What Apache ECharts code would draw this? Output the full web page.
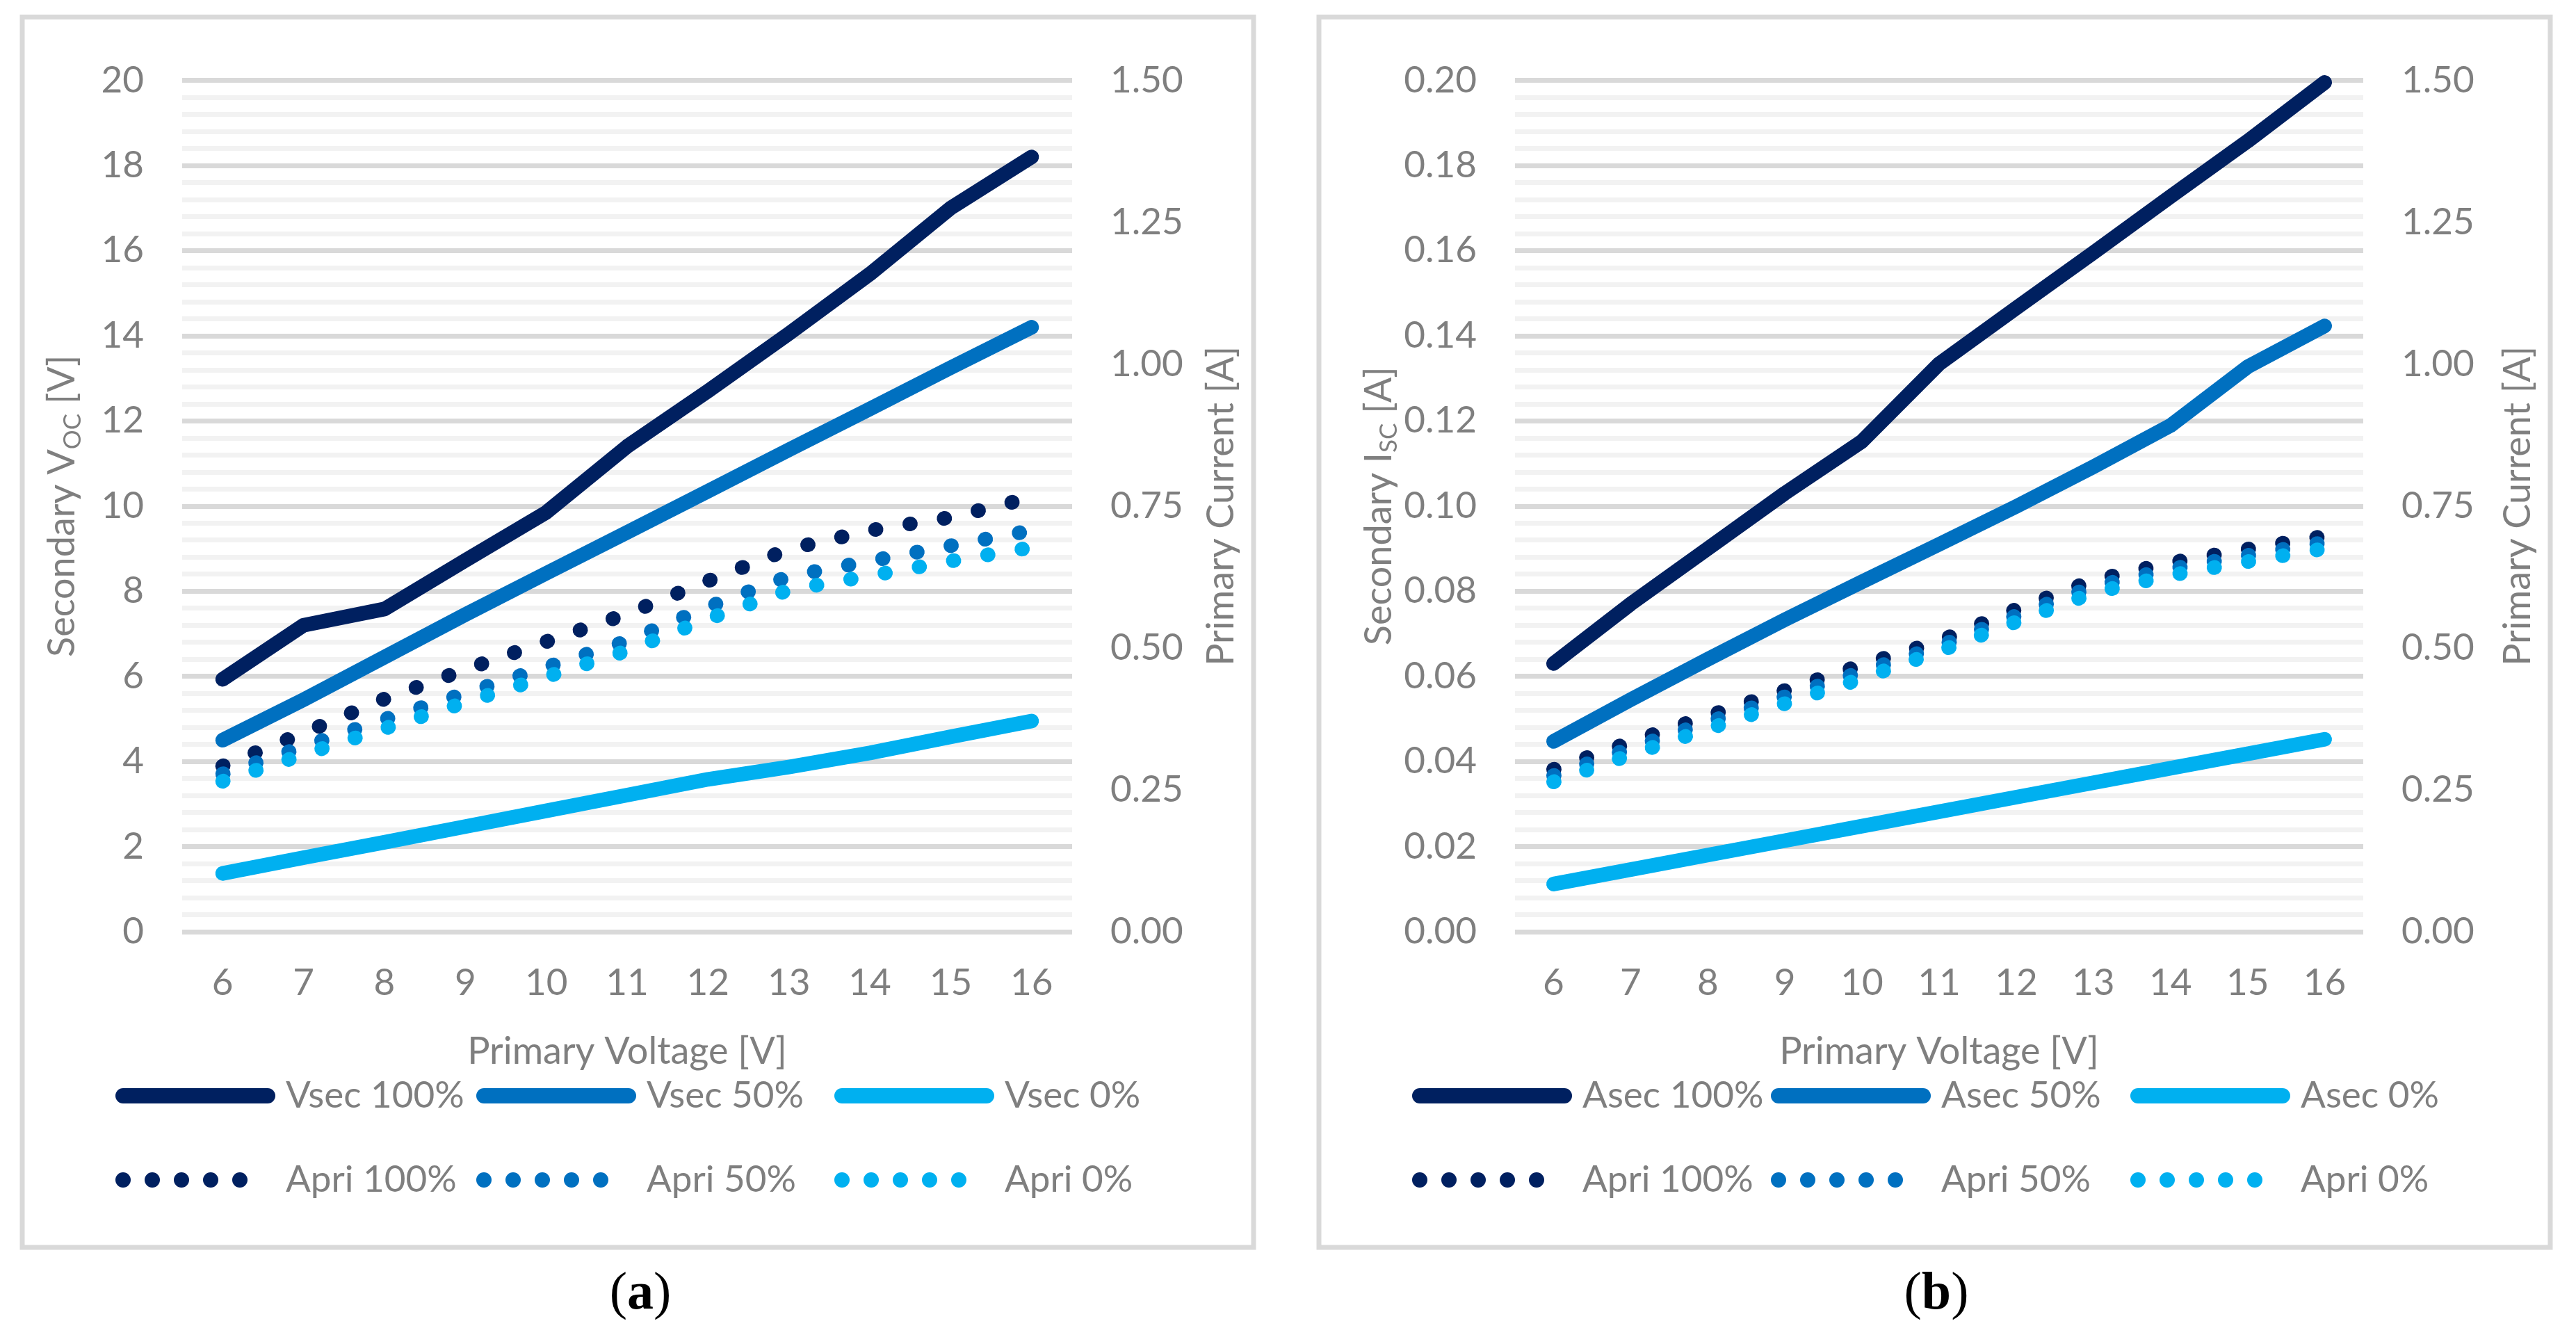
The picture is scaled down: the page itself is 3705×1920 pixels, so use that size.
<!DOCTYPE html>
<html>
<head>
<meta charset="utf-8">
<script src="https://cdn.jsdelivr.net/npm/echarts@6/dist/echarts.min.js"></script>
<style>
html,body{margin:0;padding:0;background:#fff;}
#main{width:3705px;height:1920px;}
</style>
</head>
<body>
<div id="main"></div>
<script>
// ---------- data ----------
const categories = ['6','7','8','9','10','11','12','13','14','15','16'];

// panel (a): secondary open-circuit voltage [V]
const vsec100 = [5.93, 7.20, 7.58, 8.72, 9.85, 11.40, 12.70, 14.05, 15.45, 17.00, 18.20];
const vsec50  = [4.50, 5.45, 6.45, 7.45, 8.42, 9.38, 10.35, 11.32, 12.28, 13.25, 14.20];
const vsec0   = [1.37, 1.74, 2.10, 2.47, 2.84, 3.21, 3.58, 3.87, 4.20, 4.58, 4.95];
// panel (a): primary current [A]
const apriA100 = [0.292, 0.350, 0.410, 0.462, 0.511, 0.560, 0.618, 0.674, 0.707, 0.730, 0.765];
const apriA50  = [0.278, 0.326, 0.374, 0.420, 0.466, 0.512, 0.572, 0.626, 0.653, 0.680, 0.707];
const apriA0   = [0.265, 0.312, 0.358, 0.404, 0.449, 0.495, 0.551, 0.602, 0.627, 0.653, 0.677];

// panel (b): secondary short-circuit current [A]
const asec100 = [0.0630, 0.0770, 0.0900, 0.1030, 0.1152, 0.1334, 0.1465, 0.1595, 0.1727, 0.1857, 0.1995];
const asec50  = [0.0447, 0.0545, 0.0640, 0.0733, 0.0822, 0.0910, 0.0999, 0.1092, 0.1189, 0.1327, 0.1423];
const asec0   = [0.0112, 0.0146, 0.0180, 0.0214, 0.0248, 0.0282, 0.0316, 0.0350, 0.0384, 0.0418, 0.0452];
// panel (b): primary current [A]
const apriB100 = [0.286, 0.334, 0.380, 0.425, 0.470, 0.512, 0.568, 0.619, 0.650, 0.674, 0.697];
const apriB50  = [0.275, 0.323, 0.369, 0.414, 0.458, 0.503, 0.557, 0.608, 0.639, 0.663, 0.686];
const apriB0   = [0.264, 0.312, 0.357, 0.402, 0.446, 0.494, 0.546, 0.597, 0.628, 0.652, 0.675];

const leftTicksA = [0, 20, 2];
const leftTicksB = [0, 0.2, 0.02];
const rightTicks = [0, 1.5, 0.25];

// ---------- style ----------
const C100 = '#002060', C50 = '#0070C0', C0 = '#00B0F0';
const TXT = '#7f7f7f';
const FONT = 'Lato';
const FS = 53;
const FSN = 54;

const chart = echarts.init(document.getElementById('main'), null, {renderer: 'canvas'});

function solid(name, data, color, yIdx, xIdx) {
  return {
    name, type: 'line', data, xAxisIndex: xIdx, yAxisIndex: yIdx,
    showSymbol: false, symbol: 'none', color,
    lineStyle: {color, width: 21, cap: 'round', join: 'round'},
    animation: false
  };
}
function dotted(name, data, color, yIdx, xIdx) {
  return {
    name, type: 'line', data, xAxisIndex: xIdx, yAxisIndex: yIdx,
    showSymbol: false, symbol: 'none', color,
    lineStyle: {color, width: 21, type: [1, 49], cap: 'round', join: 'round'},
    animation: false
  };
}

const xAxisBase = (gridIndex) => ({
  type: 'category', gridIndex, data: categories, boundaryGap: true,
  axisLine: {show: false}, axisTick: {show: false},
  axisLabel: {color: TXT, fontSize: FS, fontFamily: FONT, margin: 47, interval: 0},
  name: 'Primary Voltage [V]', nameLocation: 'middle', nameGap: 146,
  nameTextStyle: {color: TXT, fontSize: FSN, fontFamily: FONT}
});

const nameRich = {
  n: {color: TXT, fontSize: FSN, fontFamily: FONT, lineHeight: 64, verticalAlign: 'middle'},
  s: {color: TXT, fontSize: 35, fontFamily: FONT, lineHeight: 34, verticalAlign: 'bottom'}
};

function yLeft(gridIndex, ticks, dec, nameStr, gap) {
  return {
    type: 'value', gridIndex, position: 'left',
    min: ticks[0], max: ticks[1], interval: ticks[2],
    axisLine: {show: false}, axisTick: {show: false},
    axisLabel: {color: TXT, fontSize: FS, fontFamily: FONT, margin: 55,
      formatter: v => v.toFixed(dec)},
    splitLine: {show: true, lineStyle: {color: '#d9d9d9', width: 7}},
    minorTick: {show: false, splitNumber: 5},
    minorSplitLine: {show: true, lineStyle: {color: '#f2f2f2', width: 7}},
    name: nameStr, nameLocation: 'middle', nameGap: gap,
    nameTextStyle: {color: TXT, fontSize: FSN, fontFamily: FONT, rich: nameRich}
  };
}
function yRight(gridIndex, gap) {
  return {
    type: 'value', gridIndex, position: 'right',
    min: rightTicks[0], max: rightTicks[1], interval: rightTicks[2],
    axisLine: {show: false}, axisTick: {show: false},
    axisLabel: {color: TXT, fontSize: FS, fontFamily: FONT, margin: 55,
      formatter: v => v.toFixed(2)},
    splitLine: {show: false},
    name: 'Primary Current [A]', nameLocation: 'middle', nameGap: gap,
    nameTextStyle: {color: TXT, fontSize: FSN, fontFamily: FONT}
  };
}

const ICON_SOLID = 'path://M11,0H219A11,11 0 0 1 219,22H11A11,11 0 0 1 11,0Z';
const ICON_DOTS = 'path://' + [0, 42, 84, 126, 168].map(x =>
  `M${x},11A11,11 0 1 0 ${x + 22},11A11,11 0 1 0 ${x},11Z`).join('');

function legendItem(name, left, top, solidIcon) {
  return {
    data: [name], left, top, orient: 'horizontal', padding: 0,
    selectedMode: false,
    icon: solidIcon ? ICON_SOLID : ICON_DOTS,
    itemWidth: solidIcon ? 230 : 190, itemHeight: 22,
    itemStyle: {borderWidth: 0},
    textStyle: {color: TXT, fontSize: FS, fontFamily: FONT, lineHeight: 60,
      padding: [0, 0, 0, solidIcon ? 10 : 50]}
  };
}

const row1Top = 1576 - 30, row2Top = 1697 - 30;
const legends = [
  legendItem('Vsec 100%', 166, row1Top, true),
  legendItem('Vsec 50%', 685, row1Top, true),
  legendItem('Vsec 0%', 1200, row1Top, true),
  legendItem('Apri 100%', 166, row2Top, false),
  legendItem('Apri 50%', 685, row2Top, false),
  legendItem('Apri 0%', 1200, row2Top, false),
  legendItem('Asec 100%', 2031, row1Top, true),
  legendItem('Asec 50%', 2547, row1Top, true),
  legendItem('Asec 0%', 3064, row1Top, true),
  legendItem('Apri 100%', 2031, row2Top, false),
  legendItem('Apri 50%', 2547, row2Top, false),
  legendItem('Apri 0%', 3064, row2Top, false)
];

const panelLabelRich = {
  p: {fontFamily: 'Liberation Serif', fontSize: 76, fill: '#000', color: '#000'},
  b: {fontFamily: 'Liberation Serif', fontSize: 76, fontWeight: 'bold', fill: '#000', color: '#000'}
};

const option = {
  backgroundColor: '#ffffff',
  animation: false,
  grid: [
    {left: 262, top: 115.5, width: 1280, height: 1224.5, containLabel: false},
    {left: 2179, top: 115.5, width: 1220, height: 1224.5, containLabel: false}
  ],
  xAxis: [xAxisBase(0), xAxisBase(1)],
  yAxis: [
    yLeft(0, leftTicksA, 0, '{n|Secondary V}{s|OC}{n| [V]}', 140),
    yRight(0, 188),
    yLeft(1, leftTicksB, 2, '{n|Secondary I}{s|SC}{n| [A]}', 160),
    yRight(1, 196)
  ],
  legend: legends,
  series: [
    solid('Vsec 100%', vsec100, C100, 0, 0),
    solid('Vsec 50%', vsec50, C50, 0, 0),
    solid('Vsec 0%', vsec0, C0, 0, 0),
    dotted('Apri 100%', apriA100, C100, 1, 0),
    dotted('Apri 50%', apriA50, C50, 1, 0),
    dotted('Apri 0%', apriA0, C0, 1, 0),
    solid('Asec 100%', asec100, C100, 2, 1),
    solid('Asec 50%', asec50, C50, 2, 1),
    solid('Asec 0%', asec0, C0, 2, 1),
    dotted('Apri 100%', apriB100, C100, 3, 1),
    dotted('Apri 50%', apriB50, C50, 3, 1),
    dotted('Apri 0%', apriB0, C0, 3, 1)
  ],
  graphic: [
    {type: 'rect', silent: true, z: -10,
      shape: {x: 32, y: 24.5, width: 1771, height: 1769.5},
      style: {fill: 'none', stroke: '#d9d9d9', lineWidth: 7}},
    {type: 'rect', silent: true, z: -10,
      shape: {x: 1897, y: 24.5, width: 1771, height: 1769.5},
      style: {fill: 'none', stroke: '#d9d9d9', lineWidth: 7}},
    {type: 'text', x: 921, y: 1862, silent: true,
      style: {text: '{p|(}{b|a}{p|)}', align: 'center', verticalAlign: 'middle', rich: panelLabelRich}},
    {type: 'text', x: 2785, y: 1862, silent: true,
      style: {text: '{p|(}{b|b}{p|)}', align: 'center', verticalAlign: 'middle', rich: panelLabelRich}}
  ]
};
chart.setOption(option);
</script>
</body>
</html>
